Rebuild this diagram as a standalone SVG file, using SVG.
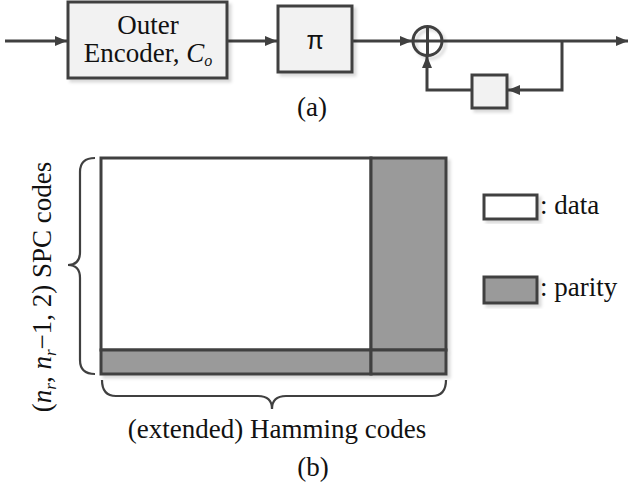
<svg xmlns="http://www.w3.org/2000/svg" width="629" height="486" viewBox="0 0 629 486">
<style>
.t{font-family:"Liberation Serif","Times New Roman",serif;font-size:27px;fill:#111}
.box{fill:#f2f2f2;stroke:#404040;stroke-width:3}
.ln{fill:none;stroke:#404040;stroke-width:3}
.br{fill:none;stroke:#404040;stroke-width:2.2}
.white{fill:#fff;stroke:#404040;stroke-width:3}
.par{fill:#9a9a9a;stroke:#404040;stroke-width:3}
</style>
<defs>
<marker id="arr" viewBox="0 0 12 10" refX="12" refY="5" markerWidth="12" markerHeight="10" markerUnits="userSpaceOnUse" orient="auto">
<path d="M0,0 L12,5 L0,10 Z" fill="#404040"/>
</marker>
<filter id="sh" x="-10%" y="-10%" width="130%" height="130%">
<feDropShadow dx="3" dy="3" stdDeviation="1.5" flood-color="#000" flood-opacity="0.15"/>
</filter>
</defs>

<g id="connectors">
<line class="ln" x1="5" y1="41" x2="67" y2="41" marker-end="url(#arr)"/>
<line class="ln" x1="227" y1="41" x2="277" y2="41" marker-end="url(#arr)"/>
<line class="ln" x1="352" y1="41" x2="412" y2="41" marker-end="url(#arr)"/>
<line class="ln" x1="442" y1="41" x2="628" y2="41" marker-end="url(#arr)"/>
<polyline class="ln" points="562,41 562,90 508,90" marker-end="url(#arr)"/>
<polyline class="ln" points="472,90 427,90 427,56" marker-end="url(#arr)"/>
</g>

<g id="outer-encoder">
<rect class="box" x="68" y="2" width="159" height="76" filter="url(#sh)"/>
<text class="t" x="148" y="34" text-anchor="middle" font-size="25">Outer</text>
<text class="t" x="148" y="62" text-anchor="middle" font-size="25">Encoder, <tspan font-style="italic">C</tspan><tspan font-style="italic" font-size="16" dy="4">o</tspan></text>
</g>

<g id="interleaver">
<rect class="box" x="278" y="6" width="74" height="66" filter="url(#sh)"/>
<text class="t" x="315" y="49" text-anchor="middle" style="font-family:'Liberation Sans',Arial,sans-serif;font-size:25px">π</text>
</g>

<g id="xor">
<circle cx="427.5" cy="41" r="14.5" fill="none" stroke="#404040" stroke-width="3" filter="url(#sh)"/>
<line class="ln" x1="413" y1="41" x2="442" y2="41"/>
<line class="ln" x1="427.5" y1="26.5" x2="427.5" y2="55.5"/>
</g>

<g id="delay">
<rect class="box" x="472" y="75" width="35" height="33" filter="url(#sh)"/>
</g>

<g id="label-a">
<text class="t" x="312" y="116" text-anchor="middle">(a)</text>
</g>

<g id="matrix" filter="url(#sh)">
<rect class="white" x="101" y="158" width="270" height="192"/>
<rect class="par" x="371" y="158" width="75" height="192"/>
<rect class="par" x="101" y="350" width="270" height="24"/>
<rect class="par" x="371" y="350" width="75" height="24"/>
</g>

<g id="brace-left">
<path class="br" d="M95 158 Q80 158 80 172 L80 252 Q80 265 68 265 Q80 265 80 278 L80 360 Q80 374 95 374"/>
<text class="t" transform="translate(51,287) rotate(-90)" text-anchor="middle">(<tspan font-style="italic">n</tspan><tspan font-style="italic" font-size="17" dy="5">r</tspan><tspan dy="-5">, </tspan><tspan font-style="italic">n</tspan><tspan font-style="italic" font-size="17" dy="5">r</tspan><tspan dy="-5">−1, 2) SPC codes</tspan></text>
</g>

<g id="brace-bottom">
<path class="br" d="M102 380 Q102 396 116 396 L258 396 Q272 396 272 409 Q272 396 286 396 L432 396 Q446 396 446 380"/>
<text class="t" x="277" y="438" text-anchor="middle">(extended) Hamming codes</text>
</g>

<g id="label-b">
<text class="t" x="313" y="476" text-anchor="middle">(b)</text>
</g>

<g id="legend-data">
<rect class="white" x="484" y="195" width="53" height="24" filter="url(#sh)"/>
<text class="t" x="540" y="214">: data</text>
</g>
<g id="legend-parity">
<rect class="par" x="484" y="277" width="53" height="26" filter="url(#sh)"/>
<text class="t" x="540" y="296">: parity</text>
</g>
</svg>
